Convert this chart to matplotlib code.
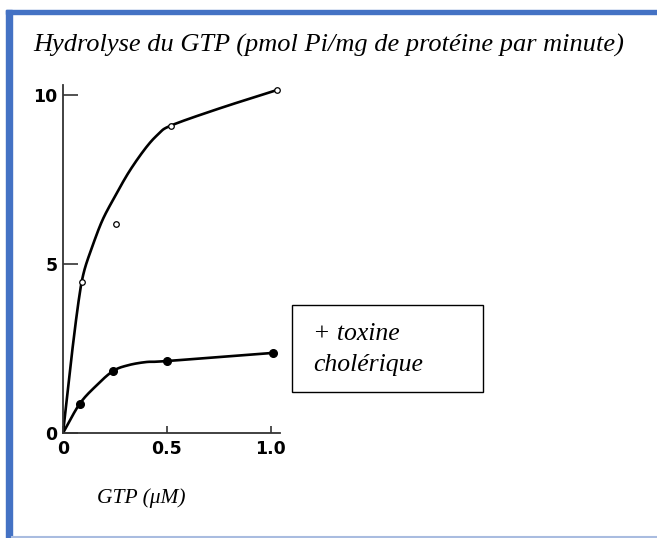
import numpy as np
import matplotlib
matplotlib.use("Agg")
import matplotlib.pyplot as plt
from matplotlib.patches import Rectangle
from matplotlib.lines import Line2D

# Measured GTP hydrolysis rates
gtp_ctrl = [0.09, 0.255, 0.52, 1.03]
rate_ctrl = [4.47, 6.2, 9.08, 10.15]
gtp_toxin = [0.08, 0.24, 0.50, 1.01]
rate_toxin = [0.86, 1.83, 2.13, 2.37]

# Hand-drawn trend curves through the measurements
curve_ctrl_x = [0, 0.04, 0.075, 0.10, 0.14, 0.19, 0.25, 0.32, 0.40, 0.46, 0.52, 0.75, 1.03]
curve_ctrl_y = [0, 2.2, 3.9, 4.75, 5.5, 6.3, 7.0, 7.75, 8.45, 8.85, 9.1, 9.6, 10.15]
curve_tox_x = [0, 0.08, 0.16, 0.24, 0.31, 0.40, 0.50, 1.01]
curve_tox_y = [0, 0.86, 1.4, 1.83, 2.0, 2.1, 2.13, 2.37]

xticks = [0, 0.5, 1.0]
xtick_labels = ["0", "0.5", "1.0"]
yticks = [0, 5, 10]
ytick_labels = ["0", "5", "10"]


def smooth(xs, ys, n=24):
    """Catmull-Rom pass through the drawn vertices."""
    p = np.column_stack([xs, ys]).astype(float)
    p = np.vstack([2 * p[0] - p[1], p, 2 * p[-1] - p[-2]])
    out = []
    for i in range(1, len(p) - 2):
        p0, p1, p2, p3 = p[i - 1], p[i], p[i + 1], p[i + 2]
        t = np.linspace(0, 1, n, endpoint=False)[:, None]
        seg = 0.5 * ((2 * p1) + (-p0 + p2) * t + (2 * p0 - 5 * p1 + 4 * p2 - p3) * t ** 2
                     + (-p0 + 3 * p1 - 3 * p2 + p3) * t ** 3)
        out.append(seg)
    out.append(p[-2][None, :])
    a = np.vstack(out)
    return a[:, 0], a[:, 1]


W, H = 657, 538
fig = plt.figure(figsize=(W / 100, H / 100), dpi=100)

# Page frame: blue band on top and left, thin light line at bottom
blue = "#4472C4"
fig.patches.append(Rectangle((6 / W, 0), 6 / W, 1 - 10 / H, transform=fig.transFigure,
                             color=blue, zorder=0))
fig.patches.append(Rectangle((6 / W, 1 - 14 / H), 1 - 6 / W, 4 / H, transform=fig.transFigure,
                             color=blue, zorder=0))
fig.add_artist(Line2D([12 / W, 1], [1.5 / H, 1.5 / H], transform=fig.transFigure,
                      color="#A9BCE0", lw=1.5))

serif = "Liberation Serif"
sans = "DejaVu Sans"

fig.text(33 / W, 1 - 52 / H, "Hydrolyse du GTP (pmol Pi/mg de protéine par minute)",
         family=serif, style="italic", fontsize=19, ha="left", va="baseline")

ax = fig.add_axes([63 / W, 1 - 433 / H, 217 / W, 348 / H])
ax.set_xlim(0, 1.045)
ax.set_ylim(0, 10.3)
ax.patch.set_alpha(0)
for s in ("top", "right"):
    ax.spines[s].set_visible(False)
for s in ("left", "bottom"):
    ax.spines[s].set_color("#333333")
    ax.spines[s].set_linewidth(1.3)

cx, cy = smooth(curve_ctrl_x, curve_ctrl_y)
tx, ty = smooth(curve_tox_x, curve_tox_y)
ax.plot(cx, cy, color="black", lw=1.9, solid_capstyle="round")
ax.plot(tx, ty, color="black", lw=1.9, solid_capstyle="round")
ax.plot(gtp_ctrl, rate_ctrl, "o", ms=4, mfc="white", mec="black", mew=0.9, zorder=3)
ax.plot(gtp_toxin, rate_toxin, "o", ms=5.5, color="black", zorder=3)

ax.set_xticks(xticks, xtick_labels)
ax.set_yticks(yticks, ytick_labels)
ax.tick_params(axis="y", direction="in", length=11, width=1.2, color="#333333", pad=4)
ax.tick_params(axis="x", direction="in", length=5, width=1.2, color="#333333", pad=5)
for lab in ax.get_xticklabels() + ax.get_yticklabels():
    lab.set_family(sans)
    lab.set_fontweight("bold")
    lab.set_fontsize(12.5)

fig.text(141 / W, 1 - 503 / H, "GTP (μM)", family=serif, style="italic",
         fontsize=15.5, ha="center", va="baseline")

# Legend box for the toxin-treated series
fig.patches.append(Rectangle((292 / W, 1 - 392 / H), 191 / W, 87 / H, transform=fig.transFigure,
                             fill=False, ec="black", lw=1.0))
fig.text(313 / W, 1 - 340 / H, "+ toxine", family=serif, style="italic",
         fontsize=18.5, ha="left", va="baseline")
fig.text(313 / W, 1 - 371 / H, "cholérique", family=serif, style="italic",
         fontsize=18.5, ha="left", va="baseline")

fig.savefig("out.png", dpi=100)
